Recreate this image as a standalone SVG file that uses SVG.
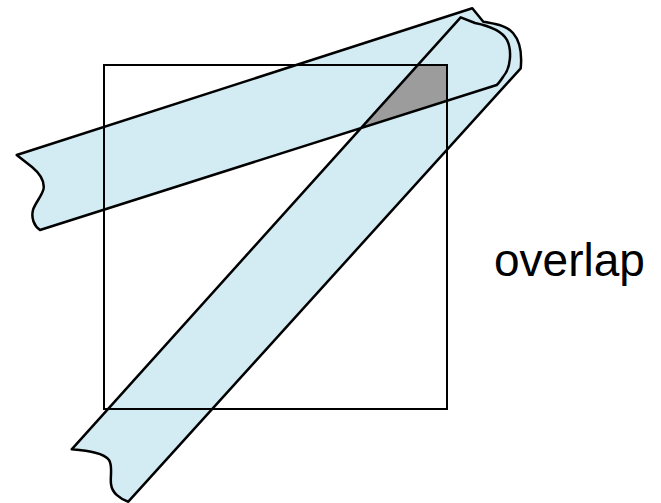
<svg xmlns="http://www.w3.org/2000/svg" xmlns:xlink="http://www.w3.org/1999/xlink" width="661" height="503" viewBox="0 0 661 503">
<style>
.fill{fill:#D3ECF4;stroke:none}
.edge{fill:none;stroke:#000;stroke-width:2.5;stroke-linejoin:round}
.frame{fill:none;stroke:#000;stroke-width:2}
.over{fill:#9C9C9C;stroke:none}
.lbl{font-family:"Liberation Sans",Arial,sans-serif;font-size:46px;fill:#000}
</style>
<defs>
<path id="ribbon" d="M16.7,155 L472.3,8.3 L483.3,21.7 C495,24 506,25 513,33 C520,41 522,55 520.7,68.3 L128.3,501.7 C120,499 112,493 111,484 C110,476 113,466 109,460 C104,453 90,451 71.7,449.3 L460.7,17.3 L475,23 C490,26 502,31 507,40 C512,50 511,68 503,77 C501,80 499,83 496.7,85 L40,230 C34,226 31,218 33,210 C35,203 42,196 43.5,189 C45,180 38,172 32,167 Z"/>
</defs>
<g id="ribbon-fill"><use xlink:href="#ribbon" class="fill"/></g>
<g id="rectangle"><rect class="frame" x="104" y="65" width="343" height="344"/></g>
<g id="overlap-region"><polygon class="over" points="417.8,65 447,65 447,100.8 360.9,128.1"/><path class="frame" d="M417.8,65 H447 V100.8"/></g>
<g id="ribbon-outline"><use xlink:href="#ribbon" class="edge"/></g>
<g id="label"><text class="lbl" x="494" y="276">overlap</text></g>
</svg>
